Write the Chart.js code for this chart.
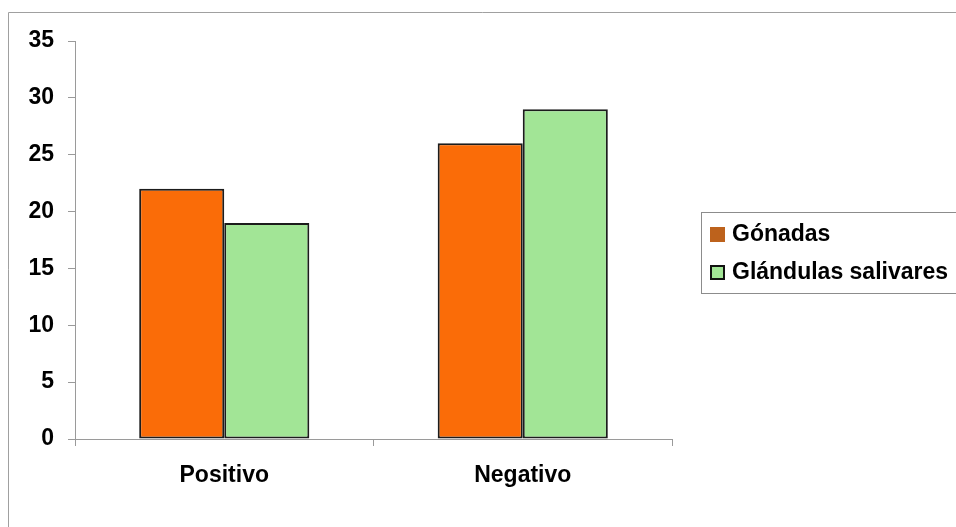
<!DOCTYPE html>
<html>
<head>
<meta charset="utf-8">
<script src="https://cdn.jsdelivr.net/npm/chart.js@4/dist/chart.umd.min.js"></script>
<style>
  html, body { margin: 0; padding: 0; background: #fff; }
  #wrap { position: relative; width: 956px; height: 527px; overflow: hidden; }
  #legend {
    position: absolute; left: 701px; top: 212px; width: 300px; height: 82px;
    border: 1px solid #8c8c8c; border-right: none; box-sizing: border-box;
    font: bold 23px "Liberation Sans", Arial, sans-serif; color: #000;
  }
  .item { position: absolute; left: 8px; height: 26px; line-height: 26px; white-space: nowrap; }
  .swatch { display: inline-block; width: 15px; height: 15px; box-sizing: border-box; vertical-align: -1px; margin-right: 7px; }
</style>
</head>
<body>
<div id="wrap">
  <canvas id="chart" width="956" height="527"></canvas>
  <div id="legend"></div>
</div>
<script>
// Data
const categories = ['Positivo', 'Negativo'];
const seriesNames = ['Gónadas', 'Glándulas salivares'];
const gonadas = [22, 26];
const glandulas = [19, 29];
const yTicks = [0, 5, 10, 15, 20, 25, 30, 35];

const fillColors = ['#fa6c08', '#a2e596'];
const swatchColors = ['#bd621c', '#a2e596'];
const font = { family: '"Liberation Sans", Arial, sans-serif', size: 23, weight: 'bold' };

// thin grey frame round the chart (top and left edges)
const framePlugin = {
    id: 'frame',
    beforeDraw(chart) {
        const ctx = chart.ctx;
        ctx.save();
        ctx.strokeStyle = '#a0a0a0';
        ctx.lineWidth = 1;
        ctx.beginPath();
        ctx.moveTo(8.5, 527);
        ctx.lineTo(8.5, 12.5);
        ctx.lineTo(956, 12.5);
        ctx.stroke();
        ctx.restore();
    }
};

const ctx = document.getElementById('chart').getContext('2d');
const chart = new Chart(ctx, {
    type: 'bar',
    data: {
        labels: categories,
        datasets: [
            {
                label: seriesNames[0],
                data: gonadas,
                backgroundColor: fillColors[0],
                borderColor: '#1c1c1c',
                borderWidth: 2,
                borderSkipped: false
            },
            {
                label: seriesNames[1],
                data: glandulas,
                backgroundColor: fillColors[1],
                borderColor: '#1c1c1c',
                borderWidth: 2,
                borderSkipped: false
            }
        ]
    },
    options: {
        responsive: false,
        animation: false,
        categoryPercentage: 0.57,
        barPercentage: 1.0,
        layout: {
            padding: { top: 41, right: 284, left: 0, bottom: 0 }
        },
        scales: {
            y: {
                min: yTicks[0],
                max: yTicks[yTicks.length - 1],
                afterBuildTicks(scale) {
                    scale.ticks = yTicks.map(v => ({ value: v }));
                },
                afterFit(scale) { scale.width = 75; },
                ticks: { color: '#000', font: font, padding: 14 },
                grid: { drawOnChartArea: false, tickLength: 7, color: '#9a9a9a' },
                border: { color: '#9a9a9a', width: 1 }
            },
            x: {
                afterFit(scale) { scale.height = 88; },
                ticks: { color: '#000', font: font, padding: 16 },
                grid: { offset: true, drawOnChartArea: false, tickLength: 7, color: '#9a9a9a' },
                border: { color: '#9a9a9a', width: 1 }
            }
        },
        plugins: {
            legend: { display: false },
            tooltip: { enabled: false }
        }
    },
    plugins: [framePlugin]
});

// Legend built from the series names
const legend = document.getElementById('legend');
chart.data.datasets.forEach((ds, i) => {
    const item = document.createElement('div');
    item.className = 'item';
    item.style.top = (7 + i * 38) + 'px';
    const sw = document.createElement('span');
    sw.className = 'swatch';
    sw.style.background = swatchColors[i];
    if (i === 1) sw.style.border = '2px solid #111';
    item.appendChild(sw);
    item.appendChild(document.createTextNode(ds.label));
    legend.appendChild(item);
});
</script>
</body>
</html>
